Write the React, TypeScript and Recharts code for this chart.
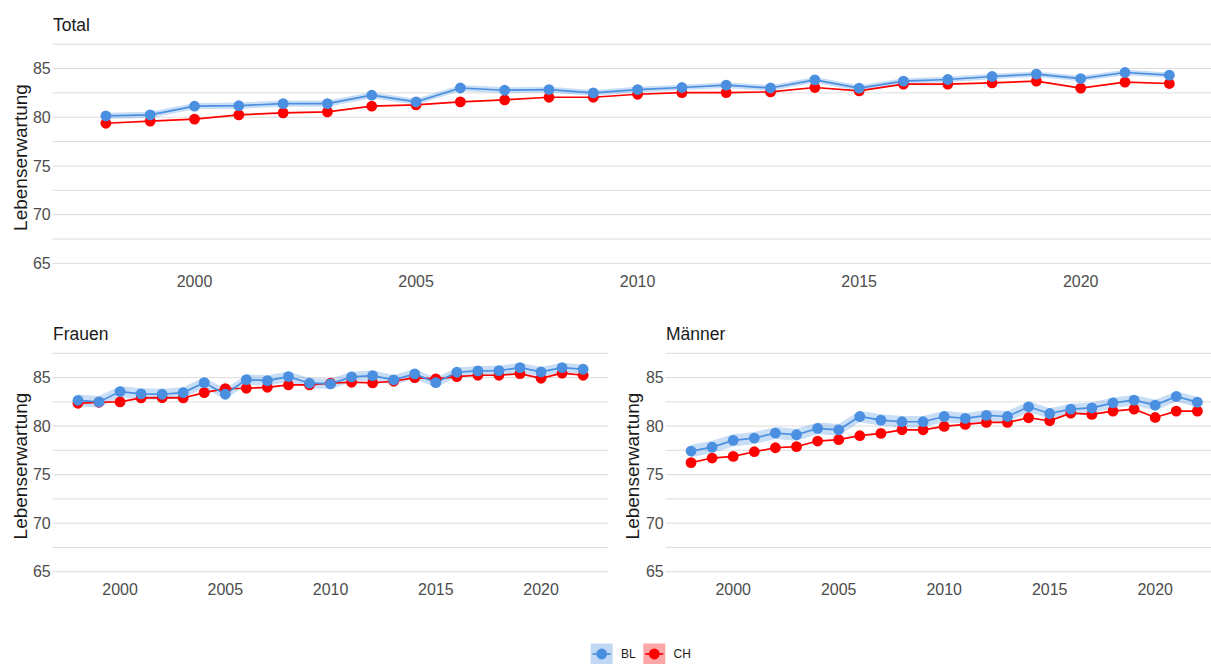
import { Area, CartesianGrid, ComposedChart, Line, XAxis, YAxis } from "recharts";

const years = [
  1998, 1999, 2000, 2001, 2002, 2003, 2004, 2005, 2006, 2007, 2008, 2009, 2010,
  2011, 2012, 2013, 2014, 2015, 2016, 2017, 2018, 2019, 2020, 2021, 2022
];

// Total
const totalBl = [
  80.14, 80.24, 81.13, 81.18, 81.4, 81.4, 82.26, 81.58, 83.0, 82.77, 82.84, 82.5, 82.84,
  83.05, 83.29, 83.0, 83.84, 82.98, 83.7, 83.87, 84.18, 84.42, 83.97, 84.59, 84.32
];
const totalBlCi = [
  0.33, 0.33, 0.32, 0.32, 0.32, 0.32, 0.31, 0.31, 0.3, 0.3, 0.3, 0.3, 0.3,
  0.29, 0.29, 0.29, 0.29, 0.29, 0.29, 0.28, 0.28, 0.28, 0.29, 0.28, 0.28
];
const totalCh = [
  79.38, 79.6, 79.8, 80.24, 80.45, 80.55, 81.13, 81.27, 81.58, 81.78, 82.05, 82.05, 82.36,
  82.53, 82.53, 82.6, 83.05, 82.7, 83.4, 83.4, 83.53, 83.7, 82.98, 83.6, 83.46
];

// Frauen
const frauenBl = [
  82.66, 82.49, 83.56, 83.32, 83.28, 83.45, 84.48, 83.28, 84.79, 84.69, 85.1, 84.42, 84.35,
  85.07, 85.2, 84.76, 85.38, 84.48, 85.55, 85.69, 85.72, 86.03, 85.58, 86.03, 85.86
];
const frauenBlCi = [
  0.6, 0.6, 0.58, 0.57, 0.57, 0.56, 0.55, 0.55, 0.54, 0.54, 0.53, 0.53, 0.52,
  0.52, 0.52, 0.51, 0.51, 0.5, 0.5, 0.5, 0.5, 0.5, 0.5, 0.5, 0.5
];
const frauenCh = [
  82.35, 82.46, 82.49, 82.9, 82.94, 82.9, 83.45, 83.87, 83.9, 84.0, 84.24, 84.24, 84.42,
  84.52, 84.45, 84.62, 85.0, 84.86, 85.1, 85.24, 85.24, 85.41, 84.93, 85.45, 85.24
];

// Männer
const maennerBl = [
  77.43, 77.84, 78.53, 78.77, 79.28, 79.11, 79.76, 79.62, 80.99, 80.62, 80.45, 80.45, 80.99,
  80.79, 81.1, 80.99, 81.99, 81.3, 81.75, 81.88, 82.4, 82.67, 82.16, 83.05, 82.47
];
const maennerBlCi = [
  0.65, 0.64, 0.63, 0.62, 0.62, 0.61, 0.6, 0.6, 0.6, 0.59, 0.59, 0.58, 0.58,
  0.57, 0.57, 0.56, 0.56, 0.55, 0.55, 0.55, 0.54, 0.54, 0.55, 0.54, 0.54
];
const maennerCh = [
  76.23, 76.71, 76.88, 77.36, 77.77, 77.88, 78.46, 78.6, 79.01, 79.25, 79.62, 79.62, 79.97,
  80.17, 80.38, 80.38, 80.86, 80.55, 81.34, 81.2, 81.54, 81.75, 80.89, 81.54, 81.54
];

const xTicks = [2000, 2005, 2010, 2015, 2020];
const yGrid = [65, 67.5, 70, 72.5, 75, 77.5, 80, 82.5, 85, 87.5];
const yLabels = [65, 70, 75, 80, 85];
const seriesNames = ["BL", "CH"];
const yTitle = "Lebenserwartung";

const colors = {
  bl: "#4a8fe0",
  ch: "#ff0000",
  grid: "#dcdcdc",
  tick: "#4d4d4d",
  text: "#1a1a1a"
};
const font = '"Liberation Sans", Arial, Helvetica, sans-serif';

const buildRows = (bl: number[], ci: number[], ch: number[]) =>
  years.map((year, i) => ({
    year,
    bl: bl[i],
    ch: ch[i],
    band: [bl[i] - ci[i], bl[i] + ci[i]]
  }));

interface PanelProps {
  rows: ReturnType<typeof buildRows>;
  left: number;
  top: number;
  width: number;
  height: number;
  plotTop: number;
}

function Panel({ rows, left, top, width, height, plotTop }: PanelProps) {
  return (
    <div style={{ position: "absolute", left, top }}>
      <ComposedChart width={width} height={height} data={rows} margin={{ top: plotTop, right: 0, bottom: 0, left: 0 }}>
        <CartesianGrid vertical={false} horizontalValues={yGrid} stroke={colors.grid} strokeWidth={1} />
        <XAxis
          dataKey="year"
          type="number"
          domain={[1996.8, 2023.2]}
          ticks={xTicks}
          interval={0}
          axisLine={false}
          tickLine={false}
          tickSize={0}
          tickMargin={1.3}
          height={25}
          tick={{ fill: colors.tick, fontSize: 16, fontFamily: font }}
        />
        <YAxis
          type="number"
          domain={[63.875, 88.625]}
          allowDataOverflow
          ticks={yGrid}
          interval={0}
          tickFormatter={(v: number) => (yLabels.includes(v) ? String(v) : "")}
          axisLine={false}
          tickLine={false}
          tickSize={0}
          tickMargin={2}
          width={52.7}
          tick={{ fill: colors.tick, fontSize: 16, fontFamily: font }}
        />
        <Line
          dataKey="ch"
          type="linear"
          stroke={colors.ch}
          strokeWidth={1.7}
          dot={{ r: 5.4, fill: colors.ch, stroke: "none" }}
          activeDot={false}
          isAnimationActive={false}
        />
        <Area
          dataKey="band"
          type="linear"
          stroke="none"
          fill={colors.bl}
          fillOpacity={0.3}
          activeDot={false}
          isAnimationActive={false}
        />
        <Line
          dataKey="bl"
          type="linear"
          stroke={colors.bl}
          strokeWidth={1.7}
          dot={{ r: 5.4, fill: colors.bl, stroke: "none" }}
          activeDot={false}
          isAnimationActive={false}
        />
      </ComposedChart>
    </div>
  );
}

function YTitle({ x, y }: { x: number; y: number }) {
  return (
    <text x={x} y={y} transform={`rotate(-90 ${x} ${y})`} textAnchor="middle" fontSize={19} fill={colors.text} fontFamily={font}>
      {yTitle}
    </text>
  );
}

export default function App() {
  const totalRows = buildRows(totalBl, totalBlCi, totalCh);
  const frauenRows = buildRows(frauenBl, frauenBlCi, frauenCh);
  const maennerRows = buildRows(maennerBl, maennerBlCi, maennerCh);
  const keyColors = [colors.bl, colors.ch];

  return (
    <div style={{ position: "fixed", left: 0, top: 0, width: 1211, height: 664, overflow: "hidden", background: "#fff" }}>
      <Panel rows={totalRows} left={0} top={0} width={1222.5} height={299.3} plotTop={33.2} />
      <Panel rows={frauenRows} left={0} top={310} width={608.4} height={297.6} plotTop={32.4} />
      <Panel rows={maennerRows} left={612.8} top={310} width={609.7} height={297.6} plotTop={32.4} />

      <svg width={1211} height={664} style={{ position: "absolute", left: 0, top: 0, pointerEvents: "none" }}>
        <text x={53} y={30.7} fontSize={17.5} fill={colors.text} fontFamily={font}>Total</text>
        <text x={53} y={340} fontSize={17.5} fill={colors.text} fontFamily={font}>Frauen</text>
        <text x={666} y={340} fontSize={17.5} fill={colors.text} fontFamily={font}>Männer</text>
        <YTitle x={26.5} y={157.5} />
        <YTitle x={26.5} y={466} />
        <YTitle x={639.3} y={466} />

        {seriesNames.map((name, i) => {
          const x0 = i === 0 ? 590.7 : 643.3;
          return (
            <g key={name}>
              <rect x={x0} y={643.5} width={22} height={21} fill={keyColors[i]} fillOpacity={0.35} />
              <line x1={x0 + 2} x2={x0 + 20} y1={654} y2={654} stroke={keyColors[i]} strokeWidth={1.7} />
              <circle cx={x0 + 11} cy={654} r={5.4} fill={keyColors[i]} />
              <text x={x0 + 30.3} y={658.2} fontSize={12} fill={colors.text} fontFamily={font}>{name}</text>
            </g>
          );
        })}
      </svg>
    </div>
  );
}
